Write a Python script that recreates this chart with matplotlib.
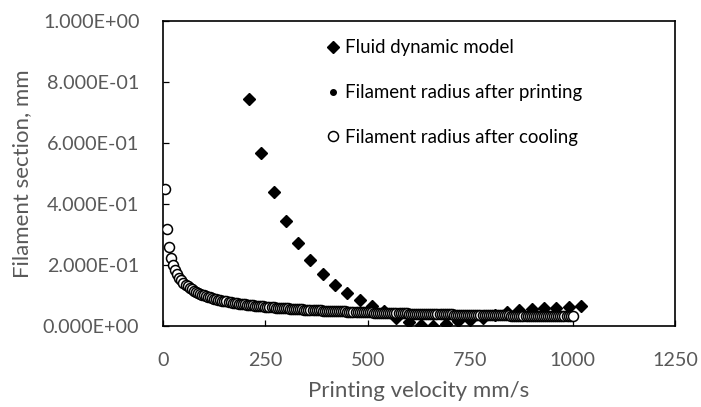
import matplotlib
matplotlib.use("Agg")
import matplotlib.pyplot as plt
from matplotlib.ticker import FuncFormatter
from matplotlib.lines import Line2D

# ---- data ----
velocity_model = [210, 240, 270, 300, 330, 360, 390, 420, 450, 480, 510, 540, 570, 600,
                  630, 660, 690, 720, 750, 780, 810, 840, 870, 900, 930, 960, 990, 1020]
section_model = [0.745, 0.567, 0.439, 0.345, 0.273, 0.216, 0.172, 0.135, 0.107, 0.084,
                 0.065, 0.050, 0.027, 0.014, 0.004, 0.000, 0.006, 0.016, 0.021, 0.026,
                 0.035, 0.046, 0.051, 0.055, 0.058, 0.060, 0.063, 0.066]

velocity_filament = list(range(5, 1005, 5))
radius_cooling = [
    0.4490, 0.3175, 0.2592, 0.2245, 0.2008, 0.1833, 0.1697, 0.1587, 0.1497, 0.1420,
    0.1354, 0.1296, 0.1245, 0.1200, 0.1159, 0.1123, 0.1089, 0.1058, 0.1030, 0.1004,
    0.0980, 0.0957, 0.0936, 0.0917, 0.0898, 0.0881, 0.0864, 0.0849, 0.0834, 0.0820,
    0.0806, 0.0794, 0.0782, 0.0770, 0.0759, 0.0748, 0.0738, 0.0728, 0.0719, 0.0710,
    0.0701, 0.0693, 0.0685, 0.0677, 0.0669, 0.0662, 0.0655, 0.0648, 0.0641, 0.0635,
    0.0629, 0.0623, 0.0617, 0.0611, 0.0605, 0.0600, 0.0595, 0.0590, 0.0585, 0.0580,
    0.0575, 0.0570, 0.0566, 0.0561, 0.0557, 0.0553, 0.0549, 0.0544, 0.0541, 0.0537,
    0.0533, 0.0529, 0.0526, 0.0522, 0.0518, 0.0515, 0.0512, 0.0508, 0.0505, 0.0502,
    0.0499, 0.0496, 0.0493, 0.0490, 0.0487, 0.0484, 0.0481, 0.0479, 0.0476, 0.0473,
    0.0471, 0.0468, 0.0466, 0.0463, 0.0461, 0.0458, 0.0456, 0.0454, 0.0451, 0.0449,
    0.0447, 0.0445, 0.0442, 0.0440, 0.0438, 0.0436, 0.0434, 0.0432, 0.0430, 0.0428,
    0.0426, 0.0424, 0.0422, 0.0421, 0.0419, 0.0417, 0.0415, 0.0413, 0.0412, 0.0410,
    0.0408, 0.0407, 0.0405, 0.0403, 0.0402, 0.0400, 0.0398, 0.0397, 0.0395, 0.0394,
    0.0392, 0.0391, 0.0389, 0.0388, 0.0386, 0.0385, 0.0384, 0.0382, 0.0381, 0.0379,
    0.0378, 0.0377, 0.0375, 0.0374, 0.0373, 0.0372, 0.0370, 0.0369, 0.0368, 0.0367,
    0.0365, 0.0364, 0.0363, 0.0362, 0.0361, 0.0359, 0.0358, 0.0357, 0.0356, 0.0355,
    0.0354, 0.0353, 0.0352, 0.0351, 0.0350, 0.0348, 0.0347, 0.0346, 0.0345, 0.0344,
    0.0343, 0.0342, 0.0341, 0.0340, 0.0339, 0.0338, 0.0337, 0.0337, 0.0336, 0.0335,
    0.0334, 0.0333, 0.0332, 0.0331, 0.0330, 0.0329, 0.0328, 0.0327, 0.0327, 0.0326,
    0.0325, 0.0324, 0.0323, 0.0322, 0.0322, 0.0321, 0.0320, 0.0319, 0.0318, 0.0317,
]
# filled dots lie under the white-filled open circles (indistinguishable in the image)
radius_printing = list(radius_cooling)

x_ticks = [0, 250, 500, 750, 1000, 1250]
y_ticks = [0.0, 0.2, 0.4, 0.6, 0.8, 1.0]

labels = ["Fluid dynamic model", "Filament radius after printing",
          "Filament radius after cooling"]

# ---- plot ----
plt.rcParams['font.family'] = ['Lato', 'DejaVu Sans']
gray = '#595959'

fig = plt.figure(figsize=(7.01, 4.07), dpi=100)
ax = fig.add_axes([0.2325, 0.199, 0.7305, 0.749])

ax.plot(velocity_filament, radius_printing, linestyle='none', marker='o',
        markersize=4, color='black', zorder=3)
ax.plot(velocity_filament, radius_cooling, linestyle='none', marker='o',
        markersize=7.2, markerfacecolor='white', markeredgecolor='black',
        markeredgewidth=1.1, zorder=4)
ax.plot(velocity_model, section_model, linestyle='none', marker='D',
        markersize=6.2, color='black', zorder=2)

ax.set_xlim(0, 1250)
ax.set_ylim(0, 1.0)
ax.set_xticks(x_ticks)
ax.set_yticks(y_ticks)
ax.yaxis.set_major_formatter(FuncFormatter(lambda v, p: f"{v:.3E}"))

for s in ax.spines.values():
    s.set_linewidth(1.2)
    s.set_color('black')
ax.tick_params(direction='in', length=4.5, width=0.9, colors='black',
               labelcolor=gray, labelsize=14.2)
ax.tick_params(axis='y', pad=17)
ax.tick_params(axis='x', pad=19)

ax.set_xlabel("Printing velocity mm/s", fontsize=16, color=gray, labelpad=8)
ax.set_ylabel("Filament section, mm", fontsize=16, color=gray, labelpad=8)

handles = [
    Line2D([], [], linestyle='none', marker='D', markersize=6.2, color='black'),
    Line2D([], [], linestyle='none', marker='o', markersize=4, color='black'),
    Line2D([], [], linestyle='none', marker='o', markersize=7.2,
           markerfacecolor='white', markeredgecolor='black', markeredgewidth=1.1),
]
leg = ax.legend(handles, labels, loc='upper left', bbox_to_anchor=(0.284, 0.99),
                frameon=False, fontsize=13.4, handlelength=1.0, handletextpad=0.15,
                labelspacing=1.5, borderaxespad=0.4, labelcolor='black')

fig.savefig("out.png", dpi=100)
